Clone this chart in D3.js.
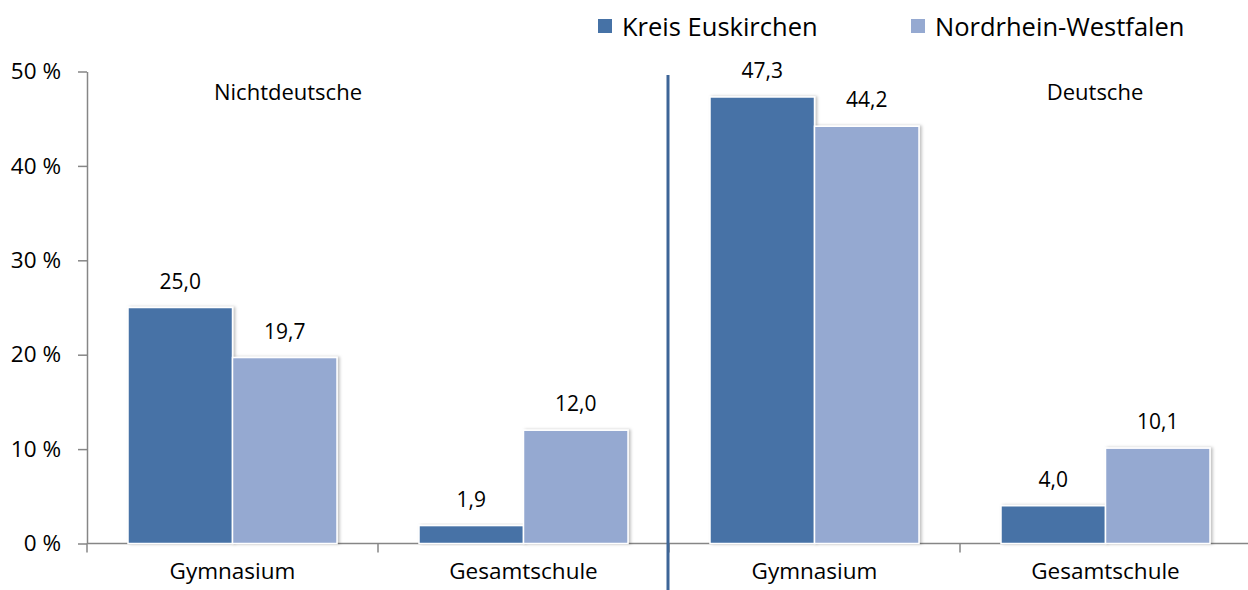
<!DOCTYPE html>
<html>
<head>
<meta charset="utf-8">
<script src="https://cdn.jsdelivr.net/npm/d3@7"></script>
<style>
  html, body { margin: 0; padding: 0; background: #fff; }
  svg { display: block; font-family: 'Open Sans', sans-serif; }
</style>
</head>
<body>
<script>
// Data
const groups = ['Nichtdeutsche', 'Deutsche']
const schoolTypes = ['Gymnasium', 'Gesamtschule']
const seriesNames = ['Kreis Euskirchen', 'Nordrhein-Westfalen']
const kreisValues = [25.0, 1.9, 47.3, 4.0]
const nrwValues = [19.7, 12.0, 44.2, 10.1]
const yTicks = [0, 10, 20, 30, 40, 50]

const colors = ['#4672a6', '#95a9d1']
const width = 1248
const height = 590

const de = d3.formatLocale({ decimal: ',', thousands: '.', grouping: [3], currency: ['', ' €'] })
const fmt = de.format('.1f')

// one key per bar group: group|school type
const keys = groups.flatMap(g => schoolTypes.map(s => `${g}|${s}`))
const rows = keys.map((k, i) => ({ key: k, values: [kreisValues[i], nrwValues[i]] }))

const svg = d3.select('body').append('svg')
  .attr('width', width)
  .attr('height', height)

const defs = svg.append('defs')
const shadow = defs.append('filter').attr('id', 'shadow')
  .attr('x', '-10%').attr('y', '-10%').attr('width', '130%').attr('height', '120%')
shadow.append('feDropShadow')
  .attr('dx', 2).attr('dy', 0).attr('stdDeviation', 1.5)
  .attr('flood-color', '#000').attr('flood-opacity', 0.25)

const x0 = d3.scaleBand().domain(keys).range([87, 1251]).padding(0)
const x1 = d3.scaleBand().domain(seriesNames).range([41, 250]).padding(0)
const y = d3.scaleLinear().domain([0, 50]).range([543.5, 71.5])

// Y axis
const yAxis = svg.append('g')
  .attr('transform', `translate(${x0.range()[0]},0)`)
  .call(d3.axisLeft(y).tickValues(yTicks).tickSize(9).tickSizeOuter(0).tickPadding(17)
    .tickFormat(d => `${d} %`))
yAxis.selectAll('text')
  .attr('font-family', "'Open Sans', sans-serif")
  .attr('font-size', 22.5)
  .attr('fill', '#000')

// X axis (labels at band centers, ticks at band boundaries)
const xAxis = svg.append('g')
  .attr('transform', `translate(0,${y(0)})`)
  .call(d3.axisBottom(x0).tickSize(0).tickSizeOuter(0).tickPadding(20)
    .tickFormat(k => k.split('|')[1]))
xAxis.select('.domain').attr('d', `M${x0.range()[0]},0H${width}`)
xAxis.selectAll('text')
  .attr('font-family', "'Open Sans', sans-serif")
  .attr('font-size', 22.5)
  .attr('fill', '#000')

xAxis.selectAll('line.bound')
  .data(keys)
  .join('line')
  .attr('class', 'bound')
  .attr('x1', k => x0(k)).attr('x2', k => x0(k))
  .attr('y1', 0).attr('y2', 9)

svg.selectAll('.domain, .tick line, line.bound')
  .attr('stroke', '#868686')
  .attr('stroke-width', 1.5)

// Bars
const barGroups = svg.append('g').selectAll('g')
  .data(rows)
  .join('g')
  .attr('transform', d => `translate(${x0(d.key)},0)`)

barGroups.selectAll('rect')
  .data(d => d.values.map((v, i) => ({ series: seriesNames[i], value: v, i })))
  .join('rect')
  .attr('x', d => x1(d.series))
  .attr('y', d => y(d.value))
  .attr('width', x1.bandwidth())
  .attr('height', d => y(0) - y(d.value))
  .attr('fill', d => colors[d.i])
  .attr('stroke', '#fff')
  .attr('stroke-width', 1.5)
  .attr('filter', 'url(#shadow)')

barGroups.selectAll('text')
  .data(d => d.values.map((v, i) => ({ series: seriesNames[i], value: v })))
  .join('text')
  .attr('x', d => x1(d.series) + x1.bandwidth() / 2)
  .attr('y', d => y(d.value) - 19)
  .attr('text-anchor', 'middle')
  .attr('font-size', 21)
  .attr('fill', '#000')
  .text(d => fmt(d.value))

// Divider between groups
const divX = x0(`${groups[1]}|${schoolTypes[0]}`) - 1
svg.append('line')
  .attr('x1', divX).attr('x2', divX)
  .attr('y1', 75).attr('y2', height)
  .attr('stroke', '#3d6597')
  .attr('stroke-width', 3)

// Group titles
svg.append('text')
  .attr('x', 288).attr('y', 100)
  .attr('text-anchor', 'middle')
  .attr('font-size', 22)
  .text(groups[0])

svg.append('text')
  .attr('x', 1095).attr('y', 100)
  .attr('text-anchor', 'middle')
  .attr('font-size', 22)
  .text(groups[1])

// Legend
const legendX = [598, 911]
const legend = svg.append('g').selectAll('g')
  .data(seriesNames)
  .join('g')
  .attr('transform', (d, i) => `translate(${legendX[i]},0)`)

legend.append('rect')
  .attr('x', 0).attr('y', 19)
  .attr('width', 14).attr('height', 14)
  .attr('fill', (d, i) => colors[i])

legend.append('text')
  .attr('x', 24).attr('y', 36)
  .attr('font-size', 25.5)
  .attr('fill', '#000')
  .text(d => d)
</script>
</body>
</html>
